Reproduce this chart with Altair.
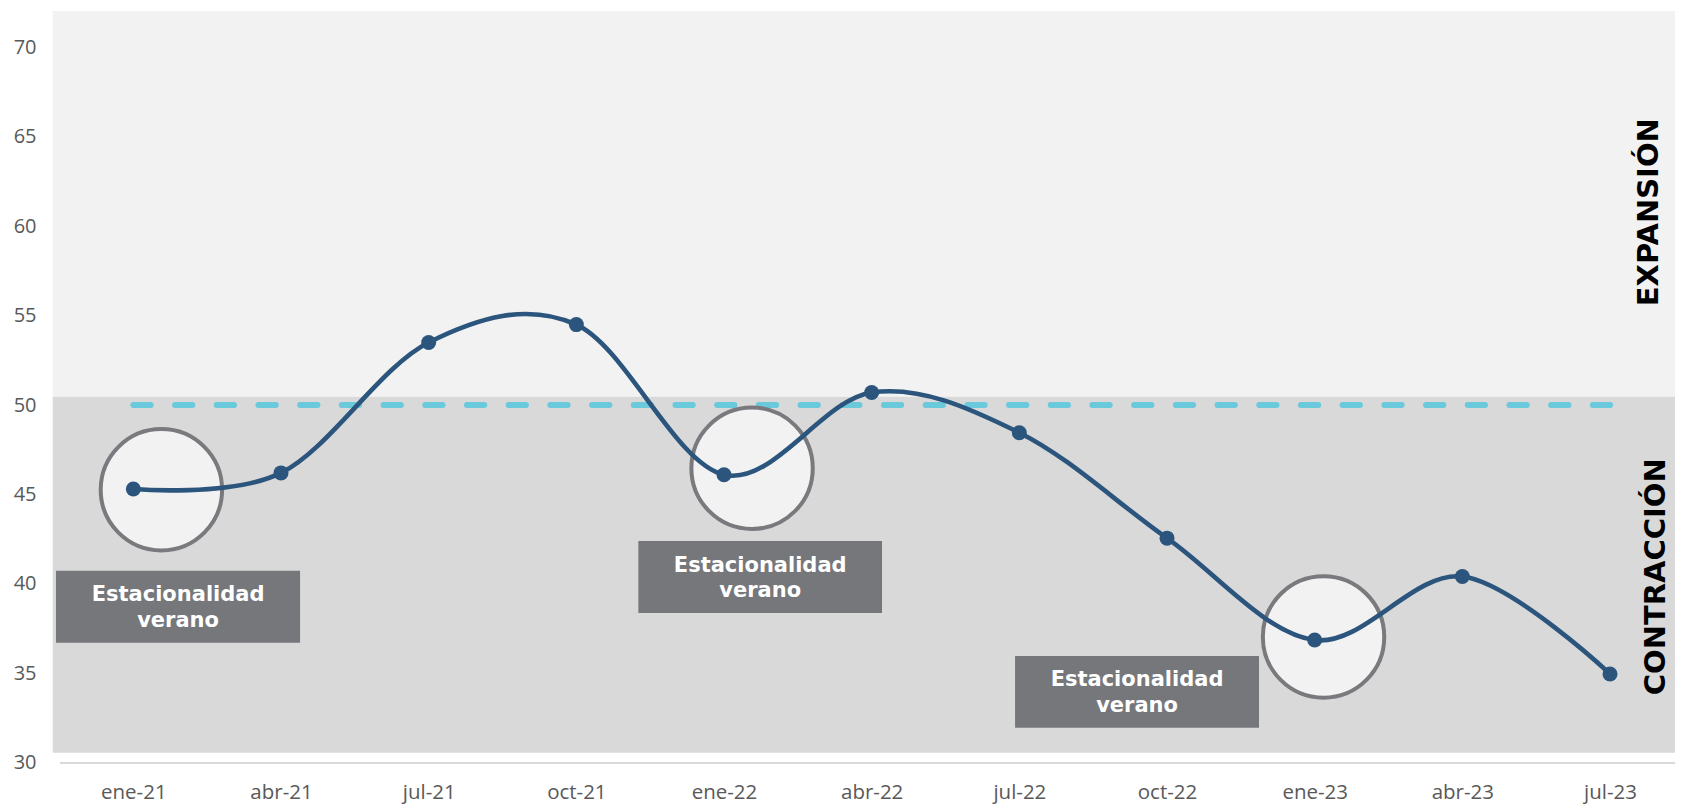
import json
import altair as alt
import pandas as pd

# ---- data ----
months = ["ene-21", "abr-21", "jul-21", "oct-21", "ene-22", "abr-22",
          "jul-22", "oct-22", "ene-23", "abr-23", "jul-23"]
values = [45.3, 46.2, 53.5, 54.5, 46.1, 50.7, 48.45, 42.55, 36.85, 40.4, 34.95]
y_ticks = [30, 35, 40, 45, 50, 55, 60, 65, 70]
threshold = 50

# background zones (value ranges)
zone_names = ["expansion", "contraccion"]
zone_low = [50.46, 30.54]
zone_high = [72.05, 50.46]
zone_colors = ["#f2f2f2", "#d9d9d9"]

# annotation circles (in month-index / value units)
circle_x = [0.19, 4.19, 8.06]
circle_y = [45.26, 46.46, 37.02]

# annotation boxes
box_x1 = [-0.524, 3.42, 5.971]
box_x2 = [1.129, 5.070, 7.623]
box_y1 = [36.70, 38.36, 31.94]
box_y2 = [40.73, 42.39, 35.95]
box_tx = [0.303, 4.245, 6.797]
box_line1_y = [39.02, 40.68, 34.26]
box_line2_y = [37.57, 39.23, 32.80]
box_line1 = "Estacionalidad"
box_line2 = "verano"

side_labels = ["EXPANSIÓN", "CONTRACCIÓN"]
side_x = [10.323, 10.372]
side_y = [60.79, 40.39]

# ---- tables ----
df = pd.DataFrame({"i": list(range(len(months))), "mes": months, "valor": values})
zones = pd.DataFrame({"zona": zone_names, "lo": zone_low, "hi": zone_high,
                      "x1": [-0.546] * 2, "x2": [10.44] * 2, "c": zone_colors})
thr = pd.DataFrame({"x1": [0.0], "x2": [10.02], "y": [threshold]})
circ = pd.DataFrame({"x": circle_x, "y": circle_y})
boxes = pd.DataFrame({"x1": box_x1, "x2": box_x2, "y1": box_y1, "y2": box_y2})
btext = pd.DataFrame({
    "x": box_tx * 2,
    "y": box_line1_y + box_line2_y,
    "t": [box_line1] * 3 + [box_line2] * 3,
})
side = pd.DataFrame({"x": side_x, "y": side_y, "t": side_labels})

X_DOMAIN = [-0.5, 10.44]
Y_DOMAIN = [30, 72.05]
LABEL_FONT = "Open Sans"
LABEL_COLOR = "#595959"

x_axis = alt.Axis(
    values=list(range(len(months))),
    labelExpr=json.dumps(months) + "[datum.value]",
    title=None, grid=False, ticks=False, tickSize=0,
    domain=True, domainColor="#d9d9d9", domainWidth=2,
    labelFont=LABEL_FONT, labelFontSize=20.5, labelColor=LABEL_COLOR,
    labelBaseline="alphabetic", labelPadding=36.5,
    labelFlush=False, labelOverlap=False,
)
y_axis = alt.Axis(
    values=y_ticks, title=None, grid=False, ticks=False, tickSize=0,
    domain=False, labelFont=LABEL_FONT, labelFontSize=20,
    labelColor=LABEL_COLOR, labelPadding=23.5,
)


def X(field):
    return alt.X(f"{field}:Q", scale=alt.Scale(domain=X_DOMAIN, nice=False, zero=False),
                 axis=x_axis)


def Y(field):
    return alt.Y(f"{field}:Q", scale=alt.Scale(domain=Y_DOMAIN, nice=False, zero=False),
                 axis=y_axis)


bg = alt.Chart(zones).mark_rect().encode(
    x=X("x1"), x2="x2", y=Y("lo"), y2="hi",
    color=alt.Color("c:N", scale=None),
)

dash = alt.Chart(thr).mark_rule(
    color="#6bc9dc", strokeWidth=6, strokeDash=[17.3, 24.4], strokeCap="round"
).encode(x=X("x1"), x2="x2", y=Y("y"))

circles = alt.Chart(circ).mark_point(
    shape="circle", filled=False, fill="#f2f2f2", fillOpacity=1,
    stroke="#7a7a7e", strokeWidth=4, size=14738, opacity=1,
).encode(x=X("x"), y=Y("y"))

line = alt.Chart(df).mark_line(
    color="#2b557d", strokeWidth=4.6, interpolate="cardinal"
).encode(x=X("i"), y=Y("valor"))

pts = alt.Chart(df).mark_point(
    shape="circle", filled=True, color="#2b557d", size=225, opacity=1
).encode(x=X("i"), y=Y("valor"))

box_rects = alt.Chart(boxes).mark_rect(color="#76777b").encode(
    x=X("x1"), x2="x2", y=Y("y1"), y2="y2"
)

box_texts = alt.Chart(btext).mark_text(
    font="DejaVu Sans", fontWeight="bold", fontSize=21, color="white",
    align="center", baseline="alphabetic",
).encode(x=X("x"), y=Y("y"), text="t:N")

side_texts = alt.Chart(side).mark_text(
    font="DejaVu Sans", fontWeight="bold", fontSize=29, color="black",
    align="center", baseline="alphabetic", angle=270,
).encode(x=X("x"), y=Y("y"), text="t:N")

chart = alt.layer(
    bg, dash, circles, line, pts, box_rects, box_texts, side_texts
).properties(
    width=1615.5, height=751.4,
    autosize=alt.AutoSizeParams(type="none"),
    padding={"left": 51.5, "top": 3, "right": 0, "bottom": 50},
    background="white",
).configure_view(stroke=None)

chart.save("out.html", embed_options={"renderer": "svg", "actions": False})
